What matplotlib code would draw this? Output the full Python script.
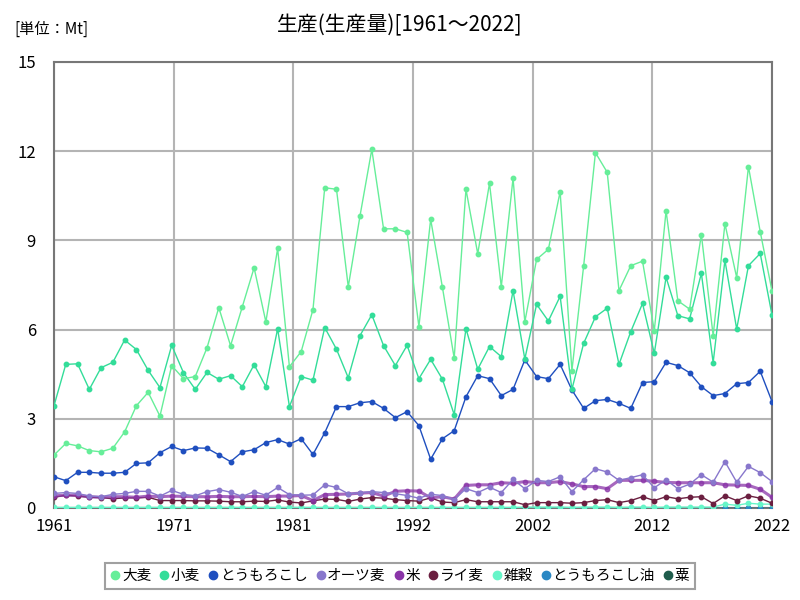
import numpy as np
import matplotlib
matplotlib.use("Agg")
import matplotlib.pyplot as plt

plt.rcParams["font.family"] = ["Noto Sans CJK JP", "DejaVu Sans"]

years = list(range(1961, 2023))

# 大麦
barley = [1.78, 2.17, 2.09, 1.93, 1.89, 2.01, 2.56, 3.44, 3.89, 3.09,
          4.79, 4.35, 4.42, 5.39, 6.74, 5.46, 6.77, 8.08, 6.26, 8.73,
          4.75, 5.26, 6.67, 10.77, 10.72, 7.44, 9.83, 12.06, 9.39, 9.39,
          9.27, 6.10, 9.71, 7.42, 5.04, 10.72, 8.55, 10.92, 7.44, 11.09,
          6.26, 8.36, 8.70, 10.64, 4.62, 8.15, 11.95, 11.29, 7.31, 8.15,
          8.30, 5.96, 10.00, 6.97, 6.69, 9.19, 5.80, 9.56, 7.75, 11.48,
          9.29, 7.30]
# 小麦
wheat = [3.44, 4.83, 4.85, 3.99, 4.72, 4.90, 5.65, 5.33, 4.63, 4.05,
         5.47, 4.55, 3.99, 4.56, 4.33, 4.45, 4.08, 4.82, 4.08, 6.03,
         3.41, 4.42, 4.30, 6.07, 5.34, 4.38, 5.80, 6.50, 5.46, 4.79,
         5.47, 4.35, 5.00, 4.33, 3.14, 6.03, 4.67, 5.43, 5.09, 7.31,
         5.01, 6.85, 6.29, 7.12, 3.99, 5.54, 6.43, 6.72, 4.83, 5.93,
         6.88, 5.20, 7.76, 6.47, 6.36, 7.89, 4.89, 8.33, 6.02, 8.15,
         8.56, 6.49]
# とうもろこし
corn = [1.05, 0.92, 1.20, 1.20, 1.17, 1.17, 1.20, 1.50, 1.52, 1.86,
        2.07, 1.93, 2.02, 2.01, 1.79, 1.56, 1.89, 1.96, 2.20, 2.30,
        2.15, 2.33, 1.80, 2.53, 3.41, 3.41, 3.54, 3.58, 3.35, 3.04,
        3.24, 2.77, 1.64, 2.33, 2.60, 3.74, 4.45, 4.35, 3.78, 3.99,
        4.98, 4.42, 4.35, 4.83, 3.97, 3.35, 3.61, 3.65, 3.52, 3.35,
        4.22, 4.25, 4.90, 4.79, 4.55, 4.08, 3.78, 3.85, 4.18, 4.22,
        4.60, 3.58]
# オーツ麦
oats = [0.49, 0.52, 0.49, 0.40, 0.38, 0.46, 0.49, 0.56, 0.56, 0.40,
        0.59, 0.46, 0.41, 0.55, 0.62, 0.53, 0.39, 0.55, 0.43, 0.69,
        0.45, 0.43, 0.44, 0.78, 0.69, 0.48, 0.51, 0.55, 0.52, 0.48,
        0.42, 0.33, 0.46, 0.42, 0.28, 0.65, 0.52, 0.70, 0.52, 0.96,
        0.65, 0.93, 0.89, 1.05, 0.55, 0.95, 1.32, 1.21, 0.93, 1.02,
        1.12, 0.68, 0.95, 0.65, 0.80, 1.12, 0.87, 1.56, 0.87, 1.40,
        1.19, 0.89]
# 米
rice = [0.41, 0.43, 0.43, 0.38, 0.36, 0.38, 0.38, 0.36, 0.40, 0.38,
        0.40, 0.39, 0.38, 0.38, 0.39, 0.38, 0.38, 0.39, 0.38, 0.40,
        0.40, 0.42, 0.25, 0.45, 0.46, 0.47, 0.50, 0.52, 0.40, 0.56,
        0.58, 0.57, 0.34, 0.38, 0.30, 0.76, 0.78, 0.78, 0.85, 0.83,
        0.89, 0.85, 0.85, 0.89, 0.81, 0.72, 0.72, 0.65, 0.93, 0.93,
        0.93, 0.90, 0.86, 0.85, 0.85, 0.85, 0.85, 0.78, 0.77, 0.76,
        0.63, 0.36]
# ライ麦
rye = [0.36, 0.43, 0.40, 0.36, 0.35, 0.31, 0.34, 0.34, 0.36, 0.25,
       0.25, 0.25, 0.24, 0.24, 0.23, 0.21, 0.21, 0.23, 0.22, 0.27,
       0.20, 0.17, 0.24, 0.30, 0.29, 0.22, 0.30, 0.35, 0.33, 0.28,
       0.25, 0.23, 0.34, 0.20, 0.18, 0.28, 0.21, 0.21, 0.21, 0.21,
       0.11, 0.18, 0.18, 0.18, 0.16, 0.18, 0.25, 0.28, 0.18, 0.25,
       0.38, 0.25, 0.38, 0.31, 0.36, 0.38, 0.15, 0.41, 0.25, 0.41,
       0.33, 0.16]
# 雑穀
millet = [0.02] * 40 + [0.03, 0.03, 0.03, 0.03, 0.02, 0.03, 0.03, 0.03,
                        0.02, 0.03, 0.03, 0.02, 0.03, 0.03, 0.03, 0.03,
                        0.03, 0.13, 0.09, 0.16, 0.13, 0.13]
# とうもろこし油
corn_oil = [0.01] * 62
# 粟
foxtail = [0.0] * 62

names = ["大麦", "小麦", "とうもろこし", "オーツ麦", "米", "ライ麦",
         "雑穀", "とうもろこし油", "粟"]
series = [barley, wheat, corn, oats, rice, rye, millet, corn_oil, foxtail]
COLORS = ["#66ee99", "#33dd99", "#1f4fbf", "#8877cc", "#8a35a8",
          "#6b1f40", "#66f5c8", "#2a88c4", "#1f5c4c"]

fig = plt.figure(figsize=(8, 6), dpi=100)
ax = fig.add_axes([54 / 800, 92 / 600, 718 / 800, 446 / 600])

for i in range(len(series)):
    lw = 2.2 if names[i] == "米" else 1.0
    alpha = 0.75 if names[i] == "米" else 1.0
    ax.plot(years, series[i], color=COLORS[i], lw=lw, alpha=alpha,
            marker="o", markersize=3.2, label=names[i], zorder=3 + (9 - i) * 0.1)

xt = np.linspace(1961, 2022, 7)
ax.set_xticks(xt)
ax.set_xticklabels([str(int(round(v))) for v in xt], fontsize=12)
ax.set_yticks([0, 3, 6, 9, 12, 15])
ax.set_yticklabels(["0", "3", "6", "9", "12", "15"], fontsize=12)
ax.set_xlim(1961, 2022)
ax.set_ylim(0, 15)
ax.grid(color="#b4b4b4", lw=1.5)
ax.set_axisbelow(True)
ax.tick_params(axis="y", length=0, pad=13)
ax.tick_params(axis="x", length=0, pad=7)
for s in ax.spines.values():
    s.set_color("#777777")
    s.set_linewidth(1.5)

fig.text(0.5, 0.958, "生産(生産量)[1961～2022]", ha="center", va="center",
         fontsize=15)
fig.text(0.018, 0.952, "[単位：Mt]", ha="left", va="center", fontsize=11)

leg = fig.legend(loc="center", bbox_to_anchor=(0.5, 0.04), ncol=9,
                 fontsize=10.5, frameon=True, fancybox=False,
                 handlelength=0.6, handletextpad=0.15, columnspacing=0.6,
                 borderpad=0.4)
for h in leg.legend_handles:
    h.set_linestyle("")
    h.set_markersize(6)
    h.set_alpha(1)
leg.get_frame().set_edgecolor("#888888")
leg.get_frame().set_linewidth(1.5)

fig.savefig("out.png", dpi=100)
